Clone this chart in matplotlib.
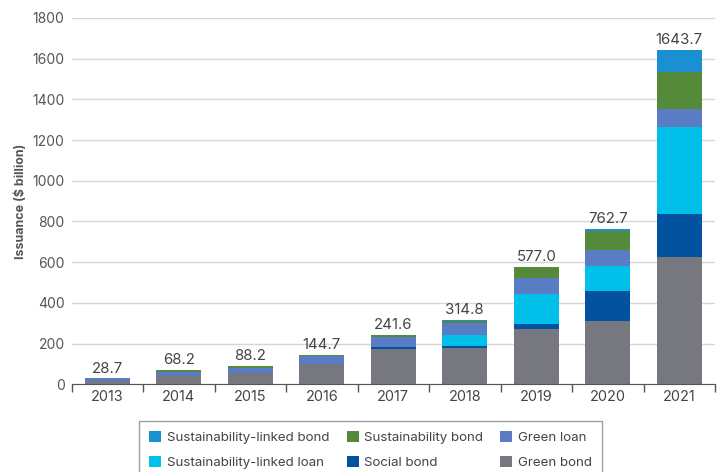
import numpy as np
import matplotlib.pyplot as plt
from matplotlib.patches import Patch

plt.rcParams['font.family'] = ['Inter', 'DejaVu Sans']

years = ['2013', '2014', '2015', '2016', '2017', '2018', '2019', '2020', '2021']
totals = [28.7, 68.2, 88.2, 144.7, 241.6, 314.8, 577.0, 762.7, 1643.7]

# stacked from the bottom up
green_bond = [14.0, 39.0, 56.0, 97.0, 172.0, 176.0, 270.0, 310.0, 623.0]
social_bond = [0.0, 0.0, 0.0, 0.0, 10.0, 12.0, 24.0, 150.0, 215.0]
sll = [0.0, 0.0, 0.0, 0.0, 0.0, 52.0, 148.0, 120.0, 424.0]
green_loan = [14.7, 19.0, 22.0, 42.0, 52.0, 62.0, 82.0, 80.0, 92.0]
sust_bond = [0.0, 10.2, 10.2, 5.7, 7.6, 11.0, 50.0, 95.0, 182.0]
slb = [0.0, 0.0, 0.0, 0.0, 0.0, 1.8, 3.0, 7.7, 107.7]

series = [
    ('Green bond', green_bond, '#77777f'),
    ('Social bond', social_bond, '#0352a0'),
    ('Sustainability-linked loan', sll, '#00bfe9'),
    ('Green loan', green_loan, '#5a7cc4'),
    ('Sustainability bond', sust_bond, '#548a3a'),
    ('Sustainability-linked bond', slb, '#1a8fd2'),
]

fig = plt.figure(figsize=(7.23, 4.72), dpi=100)
ax = fig.add_axes([0.099, 0.186, 0.89, 0.776])

x = np.arange(len(years))
bottom = np.zeros(len(years))
for name, vals, col in series:
    ax.bar(x, vals, 0.63, bottom=bottom, color=col, zorder=3)
    bottom += np.array(vals)

for xi, t in zip(x, totals):
    ax.text(xi, t + 14, '%.1f' % t, ha='center', va='bottom',
            fontsize=10.8, color='#444444')

ax.set_xlim(-0.5, 8.5)
ax.set_ylim(0, 1800)
ax.set_yticks(np.arange(0, 1801, 200))
ax.set_xticks(x)
ax.set_xticklabels(years)
ax.set_xticks(np.arange(-0.5, 9, 1), minor=True)
ax.tick_params(axis='x', which='major', length=0, labelsize=10.4,
               labelcolor='#444444', pad=4)
ax.tick_params(axis='x', which='minor', length=6, color='#555555', width=1)
ax.tick_params(axis='y', length=0, labelsize=10, labelcolor='#555555', pad=5)
ax.grid(axis='y', color='#d6d6d6', linewidth=1, zorder=0)
for s in ['top', 'right', 'left']:
    ax.spines[s].set_visible(False)
ax.spines['bottom'].set_color('#555555')
ax.spines['bottom'].set_zorder(4)
ax.set_ylabel('Issuance ($ billion)', fontsize=9, fontweight='bold',
              color='#555555', labelpad=4)

by_name = {n: c for n, v, c in series}
order = ['Sustainability-linked bond', 'Sustainability-linked loan',
         'Sustainability bond', 'Social bond', 'Green loan', 'Green bond']
handles = [Patch(facecolor=by_name[n], label=n) for n in order]
leg = fig.legend(handles=handles, ncol=3, loc='upper left',
                 bbox_to_anchor=(0.192, 0.109), borderaxespad=0,
                 fontsize=9.6, frameon=True,
                 fancybox=False, edgecolor='#888888', handlelength=0.9,
                 handleheight=0.9, handletextpad=0.4, columnspacing=1.3,
                 labelspacing=0.85, borderpad=0.8)
leg.get_frame().set_linewidth(1)
for t in leg.get_texts():
    t.set_color('#444444')

fig.savefig('out.png', dpi=100)
